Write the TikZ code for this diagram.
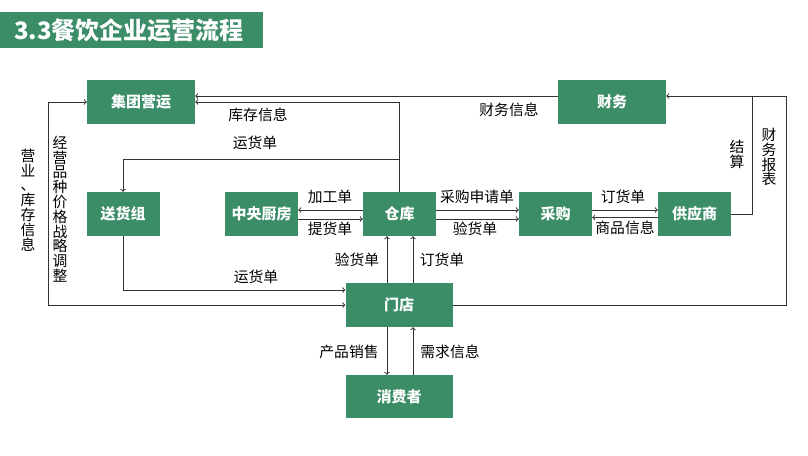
\documentclass[tikz,border=0pt]{standalone}
\usepackage{fontspec}
\setmainfont{Noto Sans CJK SC}
\usetikzlibrary{shapes}
\definecolor{boxgreen}{RGB}{58,141,103}
\tikzset{
  box/.style={shape=rectangle,fill=boxgreen,text=white,font=\fontsize{15}{16}\selectfont\bfseries,minimum width=73pt,minimum height=44pt,inner sep=0pt},
  widebox/.style={box,minimum width=108pt,minimum height=44pt},
  lbl/.style={text=black,font=\fontsize{14.8}{16}\selectfont,inner sep=0pt},
  vlbl/.style={lbl,align=center,font=\fontsize{14.8}{14.8}\selectfont},
  flow/.style={draw=black!80,line width=1pt},
}

\begin{document}
\begin{tikzpicture}[x=1pt,y=-1pt]
\useasboundingbox[fill=white] (0,0) rectangle (808,455);
\node[fill=boxgreen,minimum width=263pt,minimum height=36pt,inner sep=0pt,anchor=north west] (title) at (0,12) {};
\node[text=white,font=\fontsize{24}{26}\selectfont\bfseries,inner sep=0pt,anchor=west] (titletext) at (14,30) {3.3餐饮企业运营流程};

\node[widebox] (0) at (141,102) {集团营运};
\node[widebox] (1) at (612,102) {财务};
\node[box] (2) at (123,214) {送货组};
\node[box] (3) at (261.5,214) {中央厨房};
\node[box] (4) at (399.5,214) {仓库};
\node[box] (5) at (555.5,214) {采购};
\node[box] (6) at (694.5,214) {供应商};
\node[box,minimum width=107pt] (7) at (399,305) {门店};
\node[box,minimum width=107pt,minimum height=43pt] (8) at (399,396.5) {消费者};

\node[lbl] (9) at (509,110) {财务信息};
\node[lbl] (10) at (258,115) {库存信息};
\node[lbl] (11) at (255,143) {运货单};
\node[lbl] (12) at (330,197) {加工单};
\node[lbl] (13) at (330,229) {提货单};
\node[lbl] (14) at (477,197) {采购申请单};
\node[lbl] (15) at (475,229) {验货单};
\node[lbl] (16) at (623,197) {订货单};
\node[lbl] (17) at (625,228) {商品信息};
\node[lbl] (18) at (357,260) {验货单};
\node[lbl] (19) at (442,260) {订货单};
\node[lbl] (20) at (256,277) {运货单};
\node[lbl] (21) at (349,352) {产品销售};
\node[lbl] (22) at (450,352) {需求信息};
\node[vlbl] (23) at (28,200) {营\\业\\、\\库\\存\\信\\息};
\node[vlbl] (24) at (60,209) {经\\营\\品\\种\\价\\格\\战\\略\\调\\整};
\node[vlbl] (25) at (737,154) {结\\算};
\node[vlbl] (26) at (769,157) {财\\务\\报\\表};

\coordinate (27) at (786,96);
\coordinate (28) at (752,96);

\draw[flow,->] ([yshift=6pt]1.west) -- ([yshift=6pt]0.east);
\draw[flow,->] (4.north) |- (0.east);
\draw[flow,->] (4.north |- 0,159) -| (2.north);
\draw[flow,<->] (0.west) -- ++(-38,0) |- (7.west);
\draw[flow,->] (2.south) |- ([yshift=15pt]7.west);
\draw[flow,->] (7.east) -| (27) -- ([yshift=6pt]1.east);
\draw[flow] (6.east) -| (28);
\draw[flow,->] ([yshift=4pt]4.west) -- ([yshift=4pt]3.east);
\draw[flow,->] ([yshift=-5pt]3.east) -- ([yshift=-5pt]4.west);
\draw[flow,->] ([yshift=4pt]4.east) -- ([yshift=4pt]5.west);
\draw[flow,->] ([yshift=-5pt]4.east) -- ([yshift=-5pt]5.west);
\draw[flow,->] ([yshift=4pt]5.east) -- ([yshift=4pt]6.west);
\draw[flow,->] ([yshift=-3.5pt]6.west) -- ([yshift=-3.5pt]5.east);
\draw[flow,->] ([xshift=-12pt]7.north) -- ([xshift=-12pt]7.north |- 4.south);
\draw[flow,->] ([xshift=14pt]7.north) -- ([xshift=14pt]7.north |- 4.south);
\draw[flow,->] ([xshift=-12pt]7.south) -- ([xshift=-12pt]8.north);
\draw[flow,->] ([xshift=14pt]8.north) -- ([xshift=14pt]7.south);
\end{tikzpicture}
\end{document}
